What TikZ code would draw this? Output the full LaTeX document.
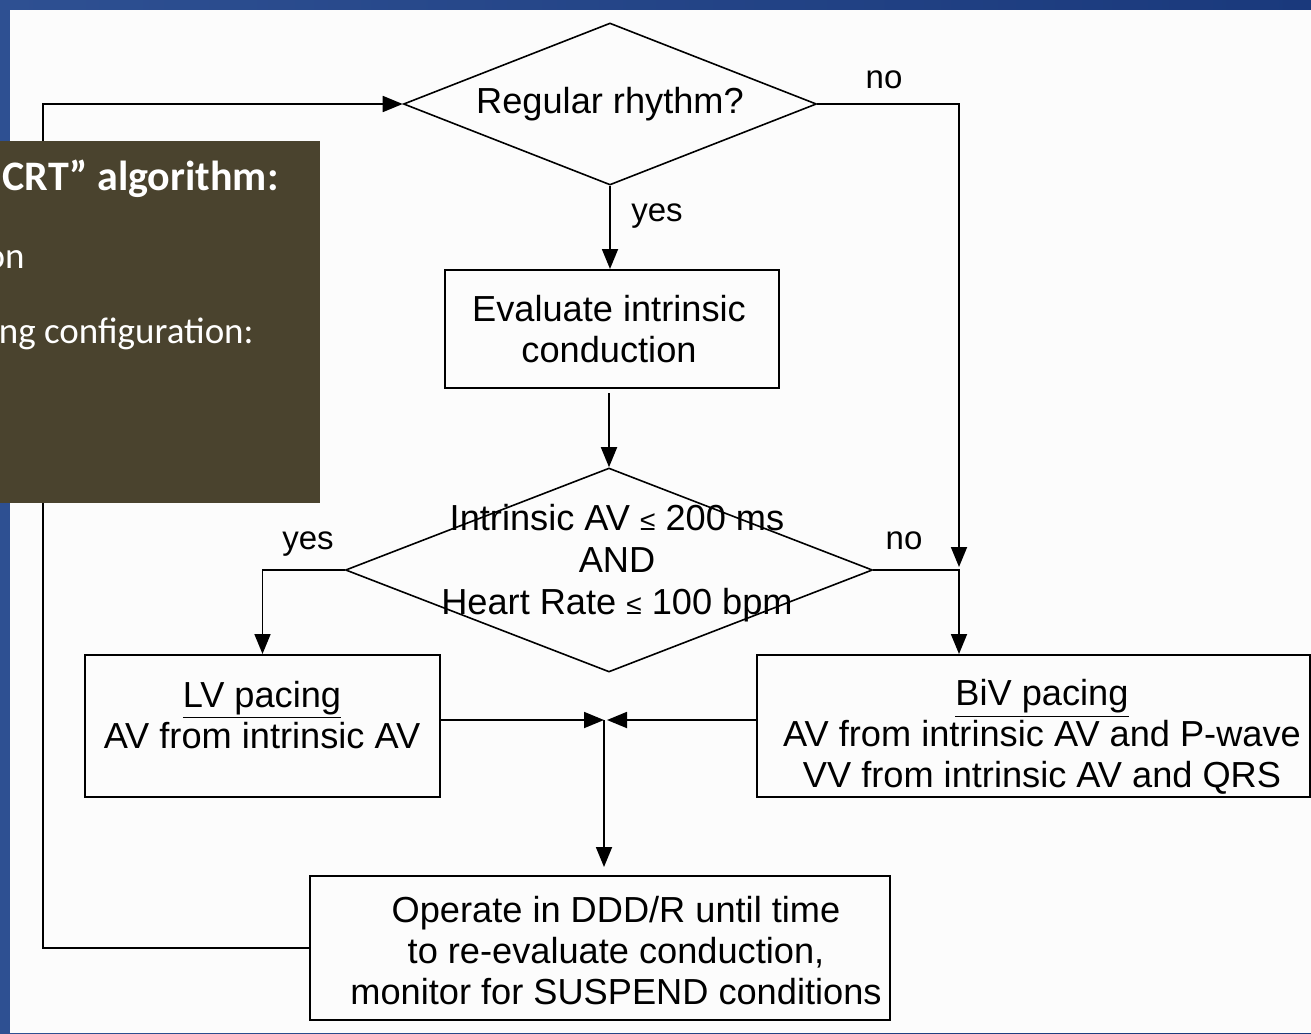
\documentclass[tikz,border=0pt]{standalone}
\usepackage{fontspec}
\setmainfont{Liberation Sans}
\newfontfamily\slidefont{Carlito}
\usetikzlibrary{shapes.geometric,arrows.meta}
\definecolor{slideblueA}{RGB}{46,80,146}
\definecolor{slideblueB}{RGB}{26,57,124}
\definecolor{panelolive}{RGB}{74,67,46}
\newcommand{\smallleq}{{\fontsize{14}{14}\selectfont ≤}}
\begin{document}
\begin{tikzpicture}[x=0.5pt,y=-0.5pt,
  every node/.style={font=\fontsize{18.1}{20.5}\selectfont},
  box/.style={draw, line width=1pt, inner sep=0pt},
  decision/.style={draw, diamond, line width=0.8pt, inner sep=0pt},
  txt/.style={align=center, inner sep=0pt},
  lbl/.style={font=\fontsize{16.5}{18}\selectfont, inner sep=0pt},
  wire/.style={line width=0.9pt},
  flow/.style={wire, -{Triangle[length=10pt,width=8pt]}},
  slidetext/.style={text=white, inner sep=0pt, anchor=base east, font=\slidefont\fontsize{18.5}{20}\selectfont},
]
\useasboundingbox (0,0) rectangle (1311,1033);

% slide background and white figure panel
\fill[left color=slideblueA, right color=slideblueB] (0,0) rectangle (1311,1033);
\fill[white!99!black] (10,10) rectangle (1311,1033);

% flowchart blocks
\node[decision, minimum width=206.5pt, minimum height=81pt] (d1) at (610,104) {};
\node[txt] (d1t) at (610,104) {Regular rhythm?};

\node[box, minimum width=167pt, minimum height=59pt] (eval) at (612,329) {};
\node[txt] (evalt) at (609,329) {Evaluate intrinsic\\conduction};

\node[decision, minimum width=263.5pt, minimum height=102pt] (d2) at (609,570) {};
\node[txt, font=\fontsize{18.1}{21}\selectfont] (d2t) at (617,563) {Intrinsic AV \smallleq{} 200 ms\\AND\\Heart Rate \smallleq{} 100 bpm};

\node[box, minimum width=177.5pt, minimum height=71pt] (lv) at (262.5,726) {};
\node[txt] (lvt) at (262,715) {\underline{LV pacing}\\AV from intrinsic AV};

\node[box, minimum width=276.5pt, minimum height=71pt] (biv) at (1033.5,726) {};
\node[txt] (bivt) at (1042,737) {\underline{BiV pacing}\\AV from intrinsic AV and P-wave\\VV from intrinsic AV and QRS};

\node[box, minimum width=290pt, minimum height=72pt] (bot) at (600,948) {};
\node[txt] (bott) at (616,951) {Operate in DDD/R until time\\to re-evaluate conduction,\\monitor for SUSPEND conditions};

% helper points for the routed connectors
\coordinate (loopx) at (43,0);
\coordinate (nodrop) at (959,567);
\coordinate (jn) at (604,720);

% connectors
\draw[flow] (d1.south) -- (d1.south |- eval.north);
\draw[flow, shorten <=2pt] (eval.south -| d2.north) -- (d2.north);
\draw[flow] (d1.east) -| (nodrop);
\draw[flow] (d2.east) -| (nodrop |- biv.north);
\draw[flow] (d2.west) -| (lv.north);
\draw[flow] (lv.east |- jn) -- (jn);
\draw[flow] (biv.west |- jn) -- ([xshift=1.5pt]jn);
\draw[flow, shorten >=4pt] (jn) -- (jn |- bot.north);
\draw[flow] (bot.west) -- (bot.west -| loopx) |- (d1.west);

% branch labels
\node[lbl] (no1) at (884,80) {no};
\node[lbl] (yes1) at (657,216) {yes};
\node[lbl] (yes2) at (308,544) {yes};
\node[lbl] (no2) at (904,541) {no};

% slide text panel laid over the figure
\fill[panelolive] (0,141) rectangle (320,503);
\node[slidetext, font=\slidefont\bfseries\fontsize{21}{23}\selectfont] (st1) at (279,190) {CRT” algorithm:};
\node[slidetext] (st2) at (25,268) {on};
\node[slidetext] (st3) at (254,343) {ng configuration:};
\end{tikzpicture}
\end{document}
